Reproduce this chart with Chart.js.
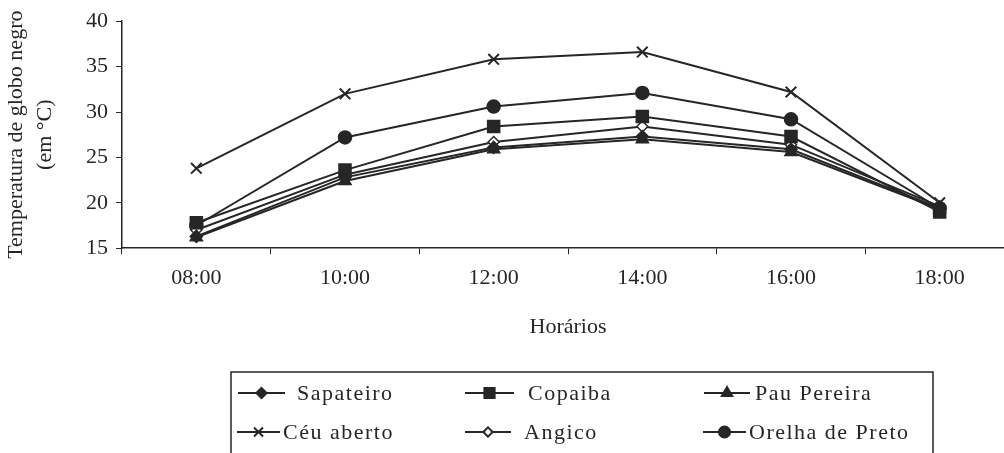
<!DOCTYPE html>
<html>
<head>
<meta charset="utf-8">
<script src="https://cdn.jsdelivr.net/npm/chart.js@4/dist/chart.umd.min.js"></script>
<style>
  html, body { margin: 0; padding: 0; background: #fff; overflow: hidden; }
  #wrap { width: 1004px; height: 453px; overflow: hidden; }
</style>
</head>
<body>
<div id="wrap"><canvas id="chart" width="1024" height="453"></canvas></div>
<script>
const horarios = ["08:00", "10:00", "12:00", "14:00", "16:00", "18:00"];
const sapateiro = [16.3, 22.8, 26.1, 27.3, 25.9, 19.4];
const copaiba = [17.8, 23.6, 28.4, 29.5, 27.3, 19.0];
const pauPereira = [16.2, 22.4, 25.9, 27.0, 25.6, 19.3];
const ceuAberto = [23.8, 32.0, 35.8, 36.6, 32.2, 20.0];
const angico = [17.0, 23.1, 26.7, 28.4, 26.4, 19.6];
const orelhaDePreto = [17.5, 27.2, 30.6, 32.1, 29.2, 19.4];

const ink = "#262626";
const serif = "'Liberation Serif', 'Times New Roman', serif";

function serie(label, data, pointStyle, radius, fill) {
  return {
    label, data, pointStyle,
    borderColor: ink,
    borderWidth: 2,
    pointRadius: radius,
    pointHoverRadius: radius,
    pointBackgroundColor: fill || ink,
    pointBorderColor: ink,
    pointBorderWidth: pointStyle === "crossRot" ? 2 : 1.5,
    tension: 0,
  };
}

const datasets = [
  serie("Sapateiro", sapateiro, "rectRot", 6),
  serie("Copaiba", copaiba, "rect", 8.5),
  serie("Pau Pereira", pauPereira, "triangle", 7),
  serie("Céu aberto", ceuAberto, "crossRot", 7.5),
  serie("Angico", angico, "rectRot", 5.5, "#fff"),
  serie("Orelha de Preto", orelhaDePreto, "circle", 6.5),
];

// legenda em caixa, 3 colunas x 2 linhas
const legendCols = [
  { line: [238, 285], text: 297 },
  { line: [465, 514], text: 528 },
  { line: [704, 750], text: 755 },
];
const legendCols2 = [
  { line: [237, 280], text: 283 },
  { line: [465, 511], text: 524 },
  { line: [703, 746], text: 749 },
];
const legendRows = [393, 432];

const boxLegend = {
  id: "boxLegend",
  afterDraw(chart) {
    const ctx = chart.ctx;
    ctx.save();
    ctx.strokeStyle = ink;
    ctx.lineWidth = 1.5;
    ctx.beginPath();
    ctx.moveTo(231, 460);
    ctx.lineTo(231, 372);
    ctx.lineTo(933, 372);
    ctx.lineTo(933, 460);
    ctx.stroke();
    ctx.font = "22px " + serif;
    ctx.letterSpacing = "1.5px";
    ctx.textBaseline = "middle";
    chart.data.datasets.forEach((ds, i) => {
      const row = Math.floor(i / 3);
      const col = (row === 0 ? legendCols : legendCols2)[i % 3];
      const y = legendRows[row];
      ctx.strokeStyle = ink;
      ctx.lineWidth = 2;
      ctx.beginPath();
      ctx.moveTo(col.line[0], y);
      ctx.lineTo(col.line[1], y);
      ctx.stroke();
      const cx = (col.line[0] + col.line[1]) / 2;
      ctx.fillStyle = ds.pointBackgroundColor;
      Chart.helpers.drawPoint(ctx, {
        pointStyle: ds.pointStyle,
        radius: ds.pointRadius * 0.85,
        rotation: 0,
        borderWidth: ds.pointBorderWidth,
      }, cx, y);
      ctx.fillStyle = ink;
      ctx.fillText(ds.label, col.text, y + 1);
    });
    ctx.restore();
  },
};

new Chart(document.getElementById("chart"), {
  type: "line",
  data: { labels: horarios, datasets },
  plugins: [boxLegend],
  options: {
    responsive: false,
    animation: false,
    layout: { padding: { top: 19, right: 2, bottom: 109, left: 0 } },
    plugins: { legend: { display: false }, tooltip: { enabled: false } },
    scales: {
      x: {
        offset: true,
        grid: { offset: true, drawOnChartArea: false, tickLength: 6, color: ink, tickColor: ink },
        border: { color: ink, width: 1.5 },
        ticks: { color: ink, font: { family: serif, size: 22 }, padding: 11 },
        title: {
          display: true, text: "Horários", color: ink,
          font: { family: serif, size: 22 }, padding: { top: 11 },
        },
      },
      y: {
        min: 15, max: 40,
        afterFit: (s) => { s.width = 122; },
        ticks: { stepSize: 5, color: ink, font: { family: serif, size: 22 }, padding: 8 },
        grid: { drawOnChartArea: false, tickLength: 6, color: ink, tickColor: ink },
        border: { color: ink, width: 1.5 },
        title: {
          display: true, text: ["Temperatura de globo negro", "(em °C)"], color: ink,
          font: { family: serif, size: 22, lineHeight: 1.3 }, padding: { top: 2, bottom: 4 },
        },
      },
    },
  },
});
</script>
</body>
</html>
